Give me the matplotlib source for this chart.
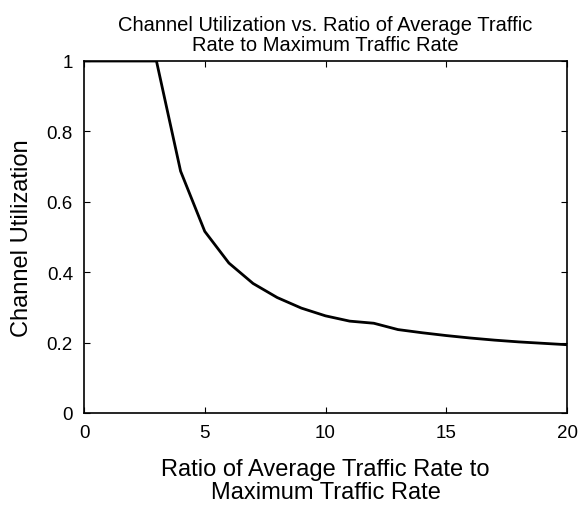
import matplotlib.pyplot as plt

plt.rcParams['font.family'] = ['Liberation Sans', 'DejaVu Sans']

# ratio of average traffic rate to maximum traffic rate
ratio = [0, 1, 2, 3, 4, 5, 6, 7, 8, 9, 10, 11, 12, 13, 14, 15, 16, 17, 18, 19, 20]
# channel utilization
utilization = [1.0, 1.0, 1.0, 1.0, 0.687, 0.516, 0.426, 0.368, 0.328, 0.298, 0.276,
               0.261, 0.255, 0.237, 0.228, 0.220, 0.213, 0.207, 0.202, 0.198, 0.194]

fig = plt.figure(figsize=(5.87, 5.06), dpi=100)
ax = fig.add_axes([84 / 587, 92 / 506, 483 / 587, 352 / 506])

ax.plot(ratio, utilization, color='black', linewidth=2)

ax.set_xlim(0, 20)
ax.set_ylim(0, 1)
ax.set_xticks([0, 5, 10, 15, 20])
ax.set_yticks([0, 0.2, 0.4, 0.6, 0.8, 1])
ax.set_yticklabels(['0', '0.2', '0.4', '0.6', '0.8', '1'])
ax.tick_params(direction='in', top=True, right=True, labelsize=13.5, length=4, width=0.8, pad=8)
for s in ax.spines.values():
    s.set_linewidth(1.2)

ax.set_title('Channel Utilization vs. Ratio of Average Traffic\nRate to Maximum Traffic Rate',
             fontsize=14.5, pad=8, linespacing=1.05)
ax.set_xlabel('Ratio of Average Traffic Rate to\nMaximum Traffic Rate', fontsize=17,
              labelpad=12, linespacing=1.1)
ax.set_ylabel('Channel Utilization', fontsize=17, labelpad=10)

fig.savefig('out.png', dpi=100)
